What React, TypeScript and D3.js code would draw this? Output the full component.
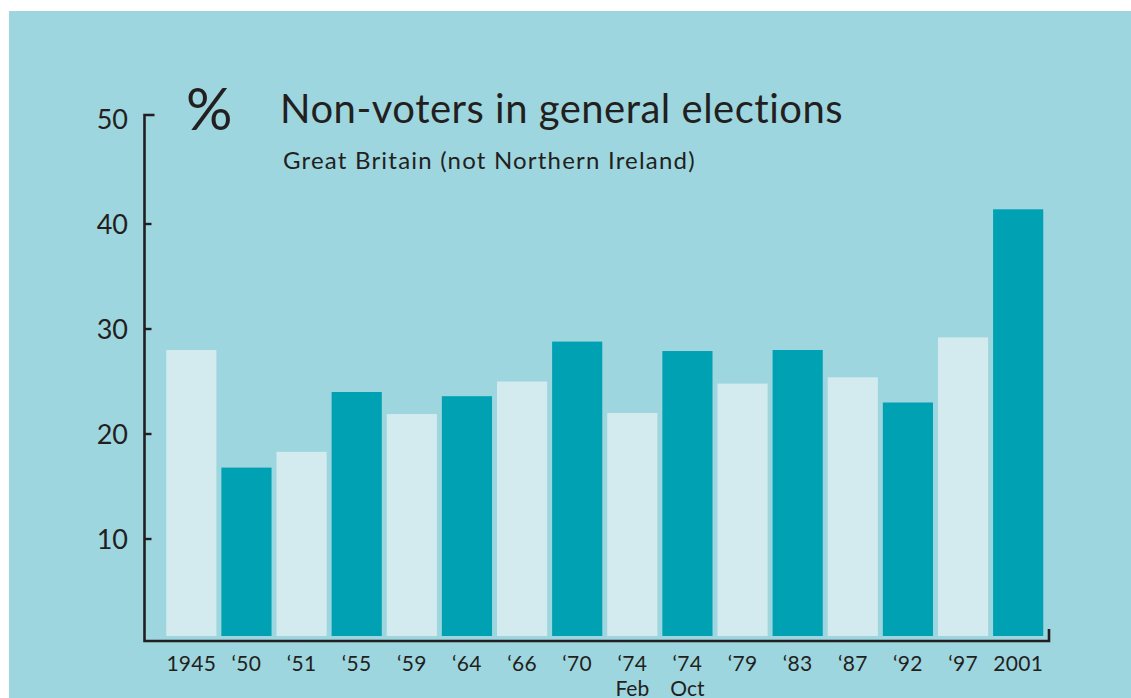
import React from "react";
import * as d3 from "d3";

const categories = ["1945", "‘50", "‘51", "‘55", "‘59", "‘64", "‘66", "‘70", "‘74", "‘74", "‘79", "‘83", "‘87", "‘92", "‘97", "2001"];
const subLabels = ["", "", "", "", "", "", "", "", "Feb", "Oct", "", "", "", "", "", ""];
const nonVoters = [28.0, 16.8, 18.3, 24.0, 21.9, 23.6, 25.0, 28.8, 22.0, 27.9, 24.8, 28.0, 25.4, 23.0, 29.2, 41.4];
const yTicks = [10, 20, 30, 40, 50];

const W = 1131;
const H = 698;
const BG = "#9dd6df";
const LIGHT = "#d3eaef";
const DARK = "#00a1b2";
const INK = "#231f20";
const FONT = "Lato, 'Open Sans', sans-serif";

export default function App() {
  const x = d3.scaleBand<number>().domain(d3.range(categories.length)).range([163.5, 1046]).paddingInner(0.09).paddingOuter(0.05);
  const y = d3.scaleLinear().domain([0, 50]).range([644, 119]);
  const barBottom = 636;
  const axisY = 641;
  const axisX = 144.5;
  const axisRight = 1049;

  return (
    <svg width={W} height={H} style={{ position: "fixed", left: 0, top: 0 }} fontFamily={FONT}>
      <rect x={9} y={11} width={W - 9} height={H - 11} fill={BG} />
      {nonVoters.map((v, i) => (
        <rect key={i} x={x(i)} y={y(v)} width={x.bandwidth()} height={barBottom - y(v)} fill={i % 2 === 0 ? LIGHT : DARK} />
      ))}
      <path d={`M${axisX + 10},${y(50) - 4} H${axisX} V${axisY} H${axisRight} V${axisY - 12}`} fill="none" stroke={INK} strokeWidth={2.6} />
      {yTicks.slice(0, 4).map((t) => (
        <line key={t} x1={axisX} x2={axisX + 7} y1={y(t)} y2={y(t)} stroke={INK} strokeWidth={2.4} />
      ))}
      {yTicks.map((t) => (
        <text key={t} x={128} y={y(t) + 3} textAnchor="end" dominantBaseline="middle" fontSize={27} fill={INK}>
          {t}
        </text>
      ))}
      {categories.map((c, i) => (
        <g key={i}>
          <text x={(x(i) as number) + x.bandwidth() / 2} y={671} textAnchor="middle" fontSize={21} letterSpacing={0.3} fill={INK}>
            {c}
          </text>
          {subLabels[i] && (
            <text x={(x(i) as number) + x.bandwidth() / 2} y={696} textAnchor="middle" fontSize={21} fill={INK}>
              {subLabels[i]}
            </text>
          )}
        </g>
      ))}
      <text x={186} y={130} fontSize={58} fill={INK}>%</text>
      <text x={280} y={123} fontSize={40} letterSpacing={0.5} fill={INK}>Non-voters in general elections</text>
      <text x={283} y={169} fontSize={24} letterSpacing={1.2} fill={INK}>Great Britain (not Northern Ireland)</text>
    </svg>
  );
}
